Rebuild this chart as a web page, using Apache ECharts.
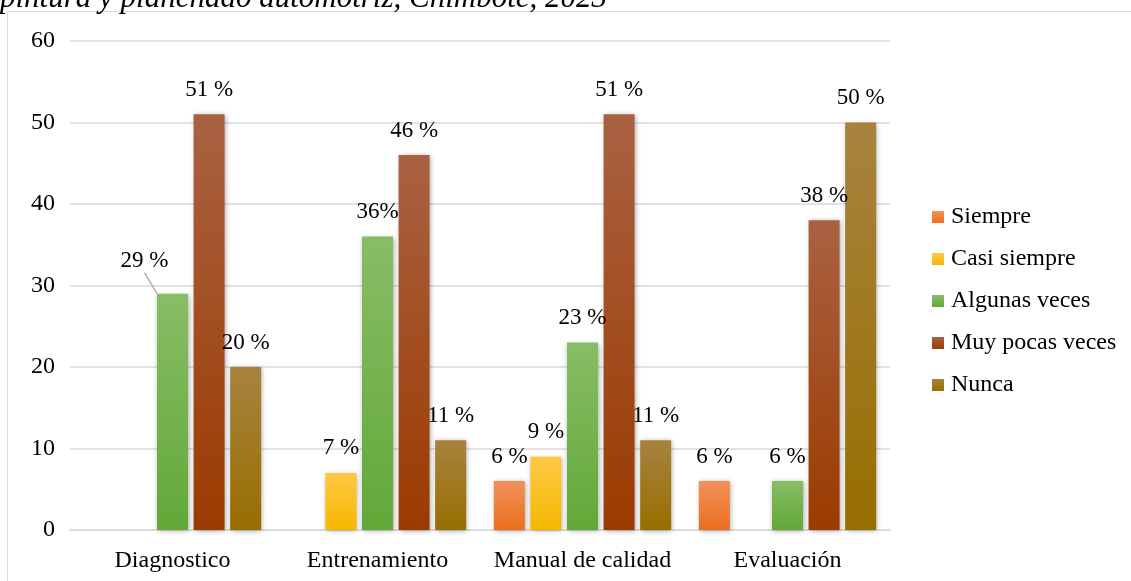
<!DOCTYPE html>
<html>
<head>
<meta charset="utf-8">
<script src="https://cdn.jsdelivr.net/npm/echarts/dist/echarts.min.js"></script>
<style>
  html, body { margin: 0; padding: 0; background: #ffffff; }
  #chart { width: 1131px; height: 581px; }
</style>
</head>
<body>
<div id="chart"></div>
<script>
// Categories and response frequencies (%)
const categories = ['Diagnostico', 'Entrenamiento', 'Manual de calidad', 'Evaluación'];
const siempre = [null, null, 6, 6];
const casiSiempre = [null, 7, 9, null];
const algunasVeces = [29, 36, 23, 6];
const muyPocasVeces = [51, 46, 51, 38];
const nunca = [20, 11, 11, 50];
const seriesNames = ['Siempre', 'Casi siempre', 'Algunas veces', 'Muy pocas veces', 'Nunca'];
const yTicks = [0, 10, 20, 30, 40, 50, 60];
// Labels printed without the space before "%": [seriesIndex, categoryIndex]
const compactLabels = [[2, 1]];
// Label pulled away from its bar with a leader line: [seriesIndex, categoryIndex]
const calloutLabel = [2, 0];

const FONT = "'Liberation Serif', 'Times New Roman', serif";
const TEXT_COLOR = '#000000';
const GRID_COLOR = '#d9d9d9';

// Vertical gradient fills, light at the top, darker at the base
const fills = [
  ['#f1915c', '#ea6e1c'],
  ['#ffc845', '#f4b800'],
  ['#88bd66', '#62a838'],
  ['#aa6142', '#9b3b00'],
  ['#a8833f', '#976e00']
];

const dataSets = [siempre, casiSiempre, algunasVeces, muyPocasVeces, nunca];

function gradient(pair) {
  return new echarts.graphic.LinearGradient(0, 0, 0, 1, [
    { offset: 0, color: pair[0] },
    { offset: 1, color: pair[1] }
  ]);
}

const series = dataSets.map((values, si) => ({
  name: seriesNames[si],
  type: 'bar',
  data: values.map((v, ci) => {
    const isCallout = calloutLabel[0] === si && calloutLabel[1] === ci;
    return isCallout ? { value: v, labelLine: { show: true } } : v;
  }),
  barWidth: 31,
  barGap: '18%',
  itemStyle: {
    color: gradient(fills[si]),
    shadowBlur: 5,
    shadowColor: 'rgba(0,0,0,0.35)',
    shadowOffsetX: 1,
    shadowOffsetY: 1
  },
  label: {
    show: true,
    position: 'top',
    distance: 13,
    fontFamily: FONT,
    fontSize: 23,
    color: TEXT_COLOR,
    formatter: (p) => {
      if (p.value == null) return '';
      const compact = compactLabels.some(([s, c]) => s === si && c === p.dataIndex);
      return p.value + (compact ? '%' : ' %');
    }
  },
  labelLine: {
    show: false,
    lineStyle: { color: '#a6a6a6', width: 1.2 }
  },
  labelLayout: (params) =>
    (si === calloutLabel[0] && params.dataIndex === calloutLabel[1]) ? { dx: -28, dy: -8 } : {}
}));

const chart = echarts.init(document.getElementById('chart'), null, { renderer: 'canvas' });

chart.setOption({
  animation: false,
  backgroundColor: '#ffffff',
  title: {
    text: 'pintura y planchado automotriz, Chimbote, 2023',
    left: 0,
    top: -17,
    padding: 0,
    textStyle: {
      fontFamily: FONT,
      fontStyle: 'italic',
      fontWeight: 'normal',
      fontSize: 31,
      color: TEXT_COLOR
    }
  },
  graphic: [{
    type: 'rect',
    silent: true,
    z: -1,
    shape: { x: 7.5, y: 11.5, width: 1130, height: 600 },
    style: { fill: 'none', stroke: '#d9d9d9', lineWidth: 1 }
  }],
  legend: {
    orient: 'vertical',
    left: 932,
    top: 205,
    padding: 0,
    itemWidth: 12,
    itemHeight: 12,
    itemGap: 18,
    icon: 'rect',
    itemStyle: { shadowBlur: 0, shadowOffsetX: 0, shadowOffsetY: 0 },
    textStyle: {
      fontFamily: FONT,
      fontSize: 24,
      color: TEXT_COLOR,
      padding: [0, 0, 0, 2]
    },
    data: seriesNames
  },
  grid: { left: 70, right: 241, top: 41, bottom: 51, containLabel: false },
  xAxis: {
    type: 'category',
    data: categories,
    axisTick: { show: false },
    axisLine: { lineStyle: { color: GRID_COLOR, width: 1.5 } },
    axisLabel: { interval: 0, fontFamily: FONT, fontSize: 24, color: TEXT_COLOR, margin: 19 }
  },
  yAxis: {
    type: 'value',
    min: yTicks[0],
    max: yTicks[yTicks.length - 1],
    interval: yTicks[1] - yTicks[0],
    axisLine: { show: false },
    axisTick: { show: false },
    splitLine: { lineStyle: { color: GRID_COLOR, width: 1.5 } },
    axisLabel: { fontFamily: FONT, fontSize: 24, color: TEXT_COLOR, margin: 15 }
  },
  series: series
});
</script>
</body>
</html>
